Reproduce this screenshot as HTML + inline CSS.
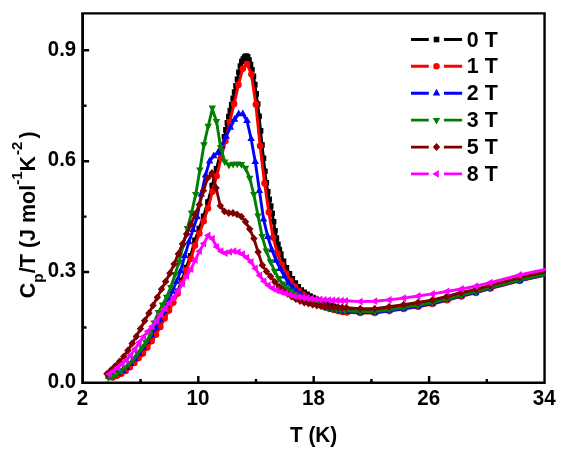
<!DOCTYPE html>
<html><head><meta charset="utf-8"><title>Cp/T vs T</title>
<style>
html,body{margin:0;padding:0;background:#fff;}
body{width:581px;height:449px;overflow:hidden;}
svg{display:block;will-change:transform;}
text{font-family:"Liberation Sans",sans-serif;font-weight:bold;fill:#000;}
</style></head><body>
<svg width="581" height="449" viewBox="0 0 581 449">
<defs><clipPath id="pc"><rect x="81.85" y="12.4" width="463.65" height="371.5"/></clipPath></defs>
<rect width="581" height="449" fill="#fff"/>
<path d="M81.2 12.15H545.75V384.0H81.2Z M84.0 14.6V381.55H543.35V14.6Z" fill="#000" fill-rule="evenodd"/>
<path d="M198.3 382.9v-6.8 M313.7 382.9v-6.8 M429.1 382.9v-6.8 M140.6 382.9v-4 M256.0 382.9v-4 M371.4 382.9v-4 M486.8 382.9v-4 M82.85 272.0h6.3 M82.85 161.2h6.3 M82.85 50.3h6.3 M82.85 327.5h3.7 M82.85 216.6h3.7 M82.85 105.8h3.7" stroke="#000" stroke-width="2.45" fill="none"/>
<text transform="translate(82.5,405.3) scale(1.03,1.11)" text-anchor="middle" font-size="20">2</text>
<text transform="translate(198.0,405.3) scale(1.03,1.11)" text-anchor="middle" font-size="20">10</text>
<text transform="translate(313.4,405.3) scale(1.03,1.11)" text-anchor="middle" font-size="20">18</text>
<text transform="translate(428.8,405.3) scale(1.03,1.11)" text-anchor="middle" font-size="20">26</text>
<text transform="translate(544.2,405.3) scale(1.03,1.11)" text-anchor="middle" font-size="20">34</text>
<text transform="translate(76.2,388.0) scale(1.02,1.13)" text-anchor="end" font-size="20">0.0</text>
<text transform="translate(76.2,277.2) scale(1.02,1.13)" text-anchor="end" font-size="20">0.3</text>
<text transform="translate(76.2,166.3) scale(1.02,1.13)" text-anchor="end" font-size="20">0.6</text>
<text transform="translate(76.2,55.5) scale(1.02,1.13)" text-anchor="end" font-size="20">0.9</text>
<text transform="translate(313.6,441.6) scale(0.99,1.085)" text-anchor="middle" font-size="21">T (K)</text>
<text transform="translate(34.5,298.2) rotate(-90)" font-size="21.5">C<tspan dy="8.4" font-size="15.5">p</tspan><tspan dy="-8.4">/T (J mol</tspan><tspan dy="-12.5" font-size="15">-1</tspan><tspan dy="12.5">K</tspan><tspan dx="1" dy="-12.5" font-size="15">-2</tspan><tspan dx="3" dy="12.5">)</tspan></text>
<g clip-path="url(#pc)">
<path d="M108.3 376.3 L112.6 375.2 L117.0 373.4 L121.3 371.4 L125.6 368.5 L129.9 364.7 L134.3 360.4 L138.6 355.5 L142.9 351.0 L147.3 344.8 L151.6 339.3 L155.9 333.0 L160.3 324.8 L164.6 316.4 L168.9 308.7 L173.2 300.6 L177.6 291.2 L181.9 280.3 L186.2 267.6 L190.6 255.9 L194.9 240.4 L199.2 228.6 L203.6 216.2 L207.9 202.0 L212.2 185.5 L216.5 168.8 L220.9 151.1 L224.5 136.8 L225.9 129.9 L227.4 122.9 L228.8 116.6 L230.3 110.6 L231.7 104.6 L233.2 98.4 L234.6 92.0 L236.0 85.7 L237.5 79.2 L238.9 72.3 L240.4 66.0 L241.8 61.5 L243.3 59.0 L244.7 57.0 L246.1 56.0 L247.6 56.7 L249.0 60.0 L250.5 64.6 L251.9 69.7 L253.4 76.4 L254.8 84.6 L256.2 93.9 L257.7 104.0 L259.1 116.2 L260.6 130.8 L262.0 145.0 L263.5 158.2 L264.9 171.2 L266.3 182.7 L267.8 191.8 L269.2 199.3 L270.7 206.1 L272.1 213.3 L273.6 221.8 L275.0 230.7 L276.4 238.1 L277.9 244.3 L279.3 249.6 L280.8 254.1 L283.5 261.2 L286.4 267.7 L289.4 273.7 L292.3 278.8 L295.3 283.1 L298.2 286.9 L301.2 290.0 L304.1 292.3 L307.1 294.3 L310.0 296.0 L313.0 297.6 L315.9 299.0 L318.9 300.4 L321.8 301.8 L324.8 303.1 L327.7 304.3 L330.7 305.4 L333.6 306.4 L336.6 307.3 L339.5 308.2 L342.5 309.0 L345.4 309.4 L360.3 310.2 L374.8 310.2 L389.2 308.3 L403.6 306.2 L418.1 303.9 L432.5 301.2 L446.9 297.5 L461.4 293.6 L475.8 290.1 L490.2 286.5 L519.5 278.9 L550.3 272.0" fill="none" stroke="#000000" stroke-width="2.9" stroke-linejoin="round"/>
<path d="M105.5 373.5h5.6v5.6h-5.6zM109.8 372.4h5.6v5.6h-5.6zM114.2 370.6h5.6v5.6h-5.6zM118.5 368.6h5.6v5.6h-5.6zM122.8 365.7h5.6v5.6h-5.6zM127.1 361.9h5.6v5.6h-5.6zM131.5 357.6h5.6v5.6h-5.6zM135.8 352.7h5.6v5.6h-5.6zM140.1 348.2h5.6v5.6h-5.6zM144.5 342.0h5.6v5.6h-5.6zM148.8 336.5h5.6v5.6h-5.6zM153.1 330.2h5.6v5.6h-5.6zM157.5 322.0h5.6v5.6h-5.6zM161.8 313.6h5.6v5.6h-5.6zM166.1 305.9h5.6v5.6h-5.6zM170.4 297.8h5.6v5.6h-5.6zM174.8 288.4h5.6v5.6h-5.6zM179.1 277.5h5.6v5.6h-5.6zM183.4 264.8h5.6v5.6h-5.6zM187.8 253.1h5.6v5.6h-5.6zM192.1 237.6h5.6v5.6h-5.6zM196.4 225.8h5.6v5.6h-5.6zM200.8 213.4h5.6v5.6h-5.6zM205.1 199.2h5.6v5.6h-5.6zM209.4 182.7h5.6v5.6h-5.6zM213.7 166.0h5.6v5.6h-5.6zM218.1 148.3h5.6v5.6h-5.6zM221.7 134.0h5.6v5.6h-5.6zM223.1 127.1h5.6v5.6h-5.6zM224.6 120.1h5.6v5.6h-5.6zM226.0 113.8h5.6v5.6h-5.6zM227.5 107.8h5.6v5.6h-5.6zM228.9 101.8h5.6v5.6h-5.6zM230.4 95.6h5.6v5.6h-5.6zM231.8 89.2h5.6v5.6h-5.6zM233.2 82.9h5.6v5.6h-5.6zM234.7 76.4h5.6v5.6h-5.6zM236.1 69.5h5.6v5.6h-5.6zM237.6 63.2h5.6v5.6h-5.6zM239.0 58.7h5.6v5.6h-5.6zM240.5 56.2h5.6v5.6h-5.6zM241.9 54.2h5.6v5.6h-5.6zM243.3 53.2h5.6v5.6h-5.6zM244.8 53.9h5.6v5.6h-5.6zM246.2 57.2h5.6v5.6h-5.6zM247.7 61.8h5.6v5.6h-5.6zM249.1 66.9h5.6v5.6h-5.6zM250.6 73.6h5.6v5.6h-5.6zM252.0 81.8h5.6v5.6h-5.6zM253.4 91.1h5.6v5.6h-5.6zM254.9 101.2h5.6v5.6h-5.6zM256.3 113.4h5.6v5.6h-5.6zM257.8 128.0h5.6v5.6h-5.6zM259.2 142.2h5.6v5.6h-5.6zM260.7 155.4h5.6v5.6h-5.6zM262.1 168.4h5.6v5.6h-5.6zM263.5 179.9h5.6v5.6h-5.6zM265.0 189.0h5.6v5.6h-5.6zM266.4 196.5h5.6v5.6h-5.6zM267.9 203.3h5.6v5.6h-5.6zM269.3 210.5h5.6v5.6h-5.6zM270.8 219.0h5.6v5.6h-5.6zM272.2 227.9h5.6v5.6h-5.6zM273.6 235.3h5.6v5.6h-5.6zM275.1 241.5h5.6v5.6h-5.6zM276.5 246.8h5.6v5.6h-5.6zM278.0 251.3h5.6v5.6h-5.6zM280.7 258.4h5.6v5.6h-5.6zM283.6 264.9h5.6v5.6h-5.6zM286.6 270.9h5.6v5.6h-5.6zM289.5 276.0h5.6v5.6h-5.6zM292.5 280.3h5.6v5.6h-5.6zM295.4 284.1h5.6v5.6h-5.6zM298.4 287.2h5.6v5.6h-5.6zM301.3 289.5h5.6v5.6h-5.6zM304.3 291.5h5.6v5.6h-5.6zM307.2 293.2h5.6v5.6h-5.6zM310.2 294.8h5.6v5.6h-5.6zM313.1 296.2h5.6v5.6h-5.6zM316.1 297.6h5.6v5.6h-5.6zM319.0 299.0h5.6v5.6h-5.6zM322.0 300.3h5.6v5.6h-5.6zM324.9 301.5h5.6v5.6h-5.6zM327.9 302.6h5.6v5.6h-5.6zM330.8 303.6h5.6v5.6h-5.6zM333.8 304.5h5.6v5.6h-5.6zM336.7 305.4h5.6v5.6h-5.6zM339.7 306.2h5.6v5.6h-5.6zM342.6 306.6h5.6v5.6h-5.6zM357.5 307.4h5.6v5.6h-5.6zM372.0 307.4h5.6v5.6h-5.6zM386.4 305.5h5.6v5.6h-5.6zM400.8 303.4h5.6v5.6h-5.6zM415.3 301.1h5.6v5.6h-5.6zM429.7 298.4h5.6v5.6h-5.6zM444.1 294.7h5.6v5.6h-5.6zM458.6 290.8h5.6v5.6h-5.6zM473.0 287.3h5.6v5.6h-5.6zM487.4 283.7h5.6v5.6h-5.6zM516.7 276.1h5.6v5.6h-5.6z" fill="#000000"/>
<path d="M112.6 377.4 L116.9 375.7 L121.2 373.7 L125.6 370.9 L129.9 367.2 L134.3 362.9 L138.6 358.1 L142.9 353.6 L147.3 347.6 L151.6 341.2 L156.0 334.7 L160.3 326.9 L164.6 318.4 L169.0 310.5 L173.3 302.6 L177.7 293.5 L182.0 283.0 L186.3 270.4 L190.7 259.0 L195.0 245.6 L199.4 233.5 L203.7 221.3 L208.0 208.4 L212.4 191.7 L216.7 176.0 L221.1 157.8 L225.4 141.0 L229.7 122.1 L234.1 103.9 L238.4 84.9 L242.8 68.8 L247.1 64.1 L251.4 74.3 L255.8 104.6 L260.1 145.9 L264.5 183.2 L268.8 212.3 L273.1 237.6 L277.5 253.9 L281.8 264.6 L286.2 273.6 L290.5 280.8 L294.8 286.5 L299.2 291.0 L303.5 294.6 L307.9 297.8 L312.2 300.6 L316.5 303.0 L320.9 305.2 L325.2 307.2 L329.6 308.8 L333.9 310.0 L338.2 311.1 L342.6 311.9 L346.9 312.4 L360.3 313.0 L374.8 313.0 L389.2 311.1 L403.6 309.0 L418.1 306.7 L432.5 304.0 L446.9 300.3 L461.4 296.4 L475.8 292.9 L490.2 288.6 L519.5 280.9 L550.3 274.0" fill="none" stroke="#ff0000" stroke-width="2.9" stroke-linejoin="round"/>
<path d="M109.3 377.4a3.3 3.3 0 1 0 6.6 0a3.3 3.3 0 1 0 -6.6 0zM113.6 375.7a3.3 3.3 0 1 0 6.6 0a3.3 3.3 0 1 0 -6.6 0zM117.9 373.7a3.3 3.3 0 1 0 6.6 0a3.3 3.3 0 1 0 -6.6 0zM122.3 370.9a3.3 3.3 0 1 0 6.6 0a3.3 3.3 0 1 0 -6.6 0zM126.6 367.2a3.3 3.3 0 1 0 6.6 0a3.3 3.3 0 1 0 -6.6 0zM131.0 362.9a3.3 3.3 0 1 0 6.6 0a3.3 3.3 0 1 0 -6.6 0zM135.3 358.1a3.3 3.3 0 1 0 6.6 0a3.3 3.3 0 1 0 -6.6 0zM139.6 353.6a3.3 3.3 0 1 0 6.6 0a3.3 3.3 0 1 0 -6.6 0zM144.0 347.6a3.3 3.3 0 1 0 6.6 0a3.3 3.3 0 1 0 -6.6 0zM148.3 341.2a3.3 3.3 0 1 0 6.6 0a3.3 3.3 0 1 0 -6.6 0zM152.7 334.7a3.3 3.3 0 1 0 6.6 0a3.3 3.3 0 1 0 -6.6 0zM157.0 326.9a3.3 3.3 0 1 0 6.6 0a3.3 3.3 0 1 0 -6.6 0zM161.3 318.4a3.3 3.3 0 1 0 6.6 0a3.3 3.3 0 1 0 -6.6 0zM165.7 310.5a3.3 3.3 0 1 0 6.6 0a3.3 3.3 0 1 0 -6.6 0zM170.0 302.6a3.3 3.3 0 1 0 6.6 0a3.3 3.3 0 1 0 -6.6 0zM174.4 293.5a3.3 3.3 0 1 0 6.6 0a3.3 3.3 0 1 0 -6.6 0zM178.7 283.0a3.3 3.3 0 1 0 6.6 0a3.3 3.3 0 1 0 -6.6 0zM183.0 270.4a3.3 3.3 0 1 0 6.6 0a3.3 3.3 0 1 0 -6.6 0zM187.4 259.0a3.3 3.3 0 1 0 6.6 0a3.3 3.3 0 1 0 -6.6 0zM191.7 245.6a3.3 3.3 0 1 0 6.6 0a3.3 3.3 0 1 0 -6.6 0zM196.1 233.5a3.3 3.3 0 1 0 6.6 0a3.3 3.3 0 1 0 -6.6 0zM200.4 221.3a3.3 3.3 0 1 0 6.6 0a3.3 3.3 0 1 0 -6.6 0zM204.7 208.4a3.3 3.3 0 1 0 6.6 0a3.3 3.3 0 1 0 -6.6 0zM209.1 191.7a3.3 3.3 0 1 0 6.6 0a3.3 3.3 0 1 0 -6.6 0zM213.4 176.0a3.3 3.3 0 1 0 6.6 0a3.3 3.3 0 1 0 -6.6 0zM217.8 157.8a3.3 3.3 0 1 0 6.6 0a3.3 3.3 0 1 0 -6.6 0zM222.1 141.0a3.3 3.3 0 1 0 6.6 0a3.3 3.3 0 1 0 -6.6 0zM226.4 122.1a3.3 3.3 0 1 0 6.6 0a3.3 3.3 0 1 0 -6.6 0zM230.8 103.9a3.3 3.3 0 1 0 6.6 0a3.3 3.3 0 1 0 -6.6 0zM235.1 84.9a3.3 3.3 0 1 0 6.6 0a3.3 3.3 0 1 0 -6.6 0zM239.5 68.8a3.3 3.3 0 1 0 6.6 0a3.3 3.3 0 1 0 -6.6 0zM243.8 64.1a3.3 3.3 0 1 0 6.6 0a3.3 3.3 0 1 0 -6.6 0zM248.1 74.3a3.3 3.3 0 1 0 6.6 0a3.3 3.3 0 1 0 -6.6 0zM252.5 104.6a3.3 3.3 0 1 0 6.6 0a3.3 3.3 0 1 0 -6.6 0zM256.8 145.9a3.3 3.3 0 1 0 6.6 0a3.3 3.3 0 1 0 -6.6 0zM261.2 183.2a3.3 3.3 0 1 0 6.6 0a3.3 3.3 0 1 0 -6.6 0zM265.5 212.3a3.3 3.3 0 1 0 6.6 0a3.3 3.3 0 1 0 -6.6 0zM269.8 237.6a3.3 3.3 0 1 0 6.6 0a3.3 3.3 0 1 0 -6.6 0zM274.2 253.9a3.3 3.3 0 1 0 6.6 0a3.3 3.3 0 1 0 -6.6 0zM278.5 264.6a3.3 3.3 0 1 0 6.6 0a3.3 3.3 0 1 0 -6.6 0zM282.9 273.6a3.3 3.3 0 1 0 6.6 0a3.3 3.3 0 1 0 -6.6 0zM287.2 280.8a3.3 3.3 0 1 0 6.6 0a3.3 3.3 0 1 0 -6.6 0zM291.5 286.5a3.3 3.3 0 1 0 6.6 0a3.3 3.3 0 1 0 -6.6 0zM295.9 291.0a3.3 3.3 0 1 0 6.6 0a3.3 3.3 0 1 0 -6.6 0zM300.2 294.6a3.3 3.3 0 1 0 6.6 0a3.3 3.3 0 1 0 -6.6 0zM304.6 297.8a3.3 3.3 0 1 0 6.6 0a3.3 3.3 0 1 0 -6.6 0zM308.9 300.6a3.3 3.3 0 1 0 6.6 0a3.3 3.3 0 1 0 -6.6 0zM313.2 303.0a3.3 3.3 0 1 0 6.6 0a3.3 3.3 0 1 0 -6.6 0zM317.6 305.2a3.3 3.3 0 1 0 6.6 0a3.3 3.3 0 1 0 -6.6 0zM321.9 307.2a3.3 3.3 0 1 0 6.6 0a3.3 3.3 0 1 0 -6.6 0zM326.3 308.8a3.3 3.3 0 1 0 6.6 0a3.3 3.3 0 1 0 -6.6 0zM330.6 310.0a3.3 3.3 0 1 0 6.6 0a3.3 3.3 0 1 0 -6.6 0zM334.9 311.1a3.3 3.3 0 1 0 6.6 0a3.3 3.3 0 1 0 -6.6 0zM339.3 311.9a3.3 3.3 0 1 0 6.6 0a3.3 3.3 0 1 0 -6.6 0zM343.6 312.4a3.3 3.3 0 1 0 6.6 0a3.3 3.3 0 1 0 -6.6 0zM357.0 313.0a3.3 3.3 0 1 0 6.6 0a3.3 3.3 0 1 0 -6.6 0zM371.5 313.0a3.3 3.3 0 1 0 6.6 0a3.3 3.3 0 1 0 -6.6 0zM385.9 311.1a3.3 3.3 0 1 0 6.6 0a3.3 3.3 0 1 0 -6.6 0zM400.3 309.0a3.3 3.3 0 1 0 6.6 0a3.3 3.3 0 1 0 -6.6 0zM414.8 306.7a3.3 3.3 0 1 0 6.6 0a3.3 3.3 0 1 0 -6.6 0zM429.2 304.0a3.3 3.3 0 1 0 6.6 0a3.3 3.3 0 1 0 -6.6 0zM443.6 300.3a3.3 3.3 0 1 0 6.6 0a3.3 3.3 0 1 0 -6.6 0zM458.1 296.4a3.3 3.3 0 1 0 6.6 0a3.3 3.3 0 1 0 -6.6 0zM472.5 292.9a3.3 3.3 0 1 0 6.6 0a3.3 3.3 0 1 0 -6.6 0zM486.9 288.6a3.3 3.3 0 1 0 6.6 0a3.3 3.3 0 1 0 -6.6 0zM516.2 280.9a3.3 3.3 0 1 0 6.6 0a3.3 3.3 0 1 0 -6.6 0z" fill="#ff0000"/>
<path d="M110.0 376.6 L114.2 375.2 L118.3 373.4 L122.5 370.9 L126.6 367.8 L130.8 363.7 L134.9 359.0 L139.1 353.7 L143.2 347.9 L147.4 341.6 L151.5 334.9 L155.7 327.6 L159.8 319.4 L164.0 310.7 L168.1 301.4 L172.3 291.5 L176.4 281.9 L180.6 271.1 L184.8 255.7 L188.9 242.1 L193.0 229.8 L197.2 217.0 L201.3 194.2 L205.5 175.3 L209.6 161.2 L213.8 156.0 L217.9 152.7 L222.1 145.9 L226.2 136.4 L230.4 127.5 L234.5 119.5 L238.7 114.1 L242.8 114.1 L247.0 120.8 L251.1 138.8 L255.3 161.9 L259.4 190.6 L263.6 219.3 L267.8 236.7 L271.9 249.9 L276.1 260.4 L280.2 268.8 L284.4 276.2 L288.5 283.0 L292.6 287.9 L296.8 291.7 L300.9 294.7 L305.1 297.4 L309.2 299.7 L313.4 301.8 L317.6 303.8 L321.7 305.6 L325.9 307.3 L330.0 308.7 L334.1 309.8 L338.3 310.7 L342.4 311.4 L346.6 311.8 L360.3 312.5 L374.8 312.5 L389.2 310.6 L403.6 308.5 L418.1 306.2 L432.5 303.5 L446.9 299.8 L461.4 295.9 L475.8 292.4 L490.2 288.2 L519.5 280.6 L550.3 273.7" fill="none" stroke="#0000ff" stroke-width="2.9" stroke-linejoin="round"/>
<path d="M110.0 372.1L113.8 378.8L106.3 378.8zM114.2 370.7L117.9 377.4L110.4 377.4zM118.3 368.9L122.1 375.6L114.6 375.6zM122.5 366.4L126.2 373.1L118.7 373.1zM126.6 363.3L130.4 370.0L122.9 370.0zM130.8 359.3L134.5 366.0L127.0 366.0zM134.9 354.6L138.7 361.3L131.2 361.3zM139.1 349.3L142.8 356.0L135.3 356.0zM143.2 343.4L147.0 350.1L139.5 350.1zM147.4 337.2L151.1 343.9L143.6 343.9zM151.5 330.5L155.3 337.2L147.8 337.2zM155.7 323.1L159.4 329.8L151.9 329.8zM159.8 315.0L163.6 321.7L156.1 321.7zM164.0 306.2L167.8 312.9L160.2 312.9zM168.1 296.9L171.9 303.6L164.4 303.6zM172.3 287.0L176.0 293.7L168.5 293.7zM176.4 277.4L180.2 284.1L172.7 284.1zM180.6 266.6L184.3 273.3L176.8 273.3zM184.8 251.3L188.5 258.0L181.0 258.0zM188.9 237.6L192.6 244.3L185.1 244.3zM193.0 225.4L196.8 232.1L189.3 232.1zM197.2 212.5L200.9 219.2L193.4 219.2zM201.3 189.8L205.1 196.5L197.6 196.5zM205.5 170.9L209.2 177.6L201.8 177.6zM209.6 156.7L213.4 163.4L205.9 163.4zM213.8 151.6L217.5 158.3L210.0 158.3zM217.9 148.3L221.7 155.0L214.2 155.0zM222.1 141.5L225.8 148.2L218.3 148.2zM226.2 132.0L230.0 138.7L222.5 138.7zM230.4 123.0L234.1 129.7L226.6 129.7zM234.5 115.1L238.3 121.8L230.8 121.8zM238.7 109.6L242.4 116.3L234.9 116.3zM242.8 109.6L246.6 116.3L239.1 116.3zM247.0 116.3L250.8 123.0L243.2 123.0zM251.1 134.4L254.9 141.1L247.4 141.1zM255.3 157.4L259.0 164.1L251.5 164.1zM259.4 186.2L263.2 192.9L255.7 192.9zM263.6 214.9L267.3 221.6L259.8 221.6zM267.8 232.3L271.5 239.0L264.0 239.0zM271.9 245.5L275.6 252.2L268.1 252.2zM276.1 256.0L279.8 262.7L272.3 262.7zM280.2 264.4L283.9 271.1L276.4 271.1zM284.4 271.7L288.1 278.4L280.6 278.4zM288.5 278.5L292.2 285.2L284.8 285.2zM292.6 283.4L296.4 290.1L288.9 290.1zM296.8 287.2L300.6 293.9L293.1 293.9zM300.9 290.3L304.7 297.0L297.2 297.0zM305.1 292.9L308.9 299.6L301.4 299.6zM309.2 295.2L313.0 301.9L305.5 301.9zM313.4 297.4L317.1 304.1L309.6 304.1zM317.6 299.3L321.3 306.0L313.8 306.0zM321.7 301.2L325.4 307.9L317.9 307.9zM325.9 302.8L329.6 309.5L322.1 309.5zM330.0 304.2L333.8 310.9L326.2 310.9zM334.1 305.3L337.9 312.0L330.4 312.0zM338.3 306.2L342.1 312.9L334.6 312.9zM342.4 307.0L346.2 313.7L338.7 313.7zM346.6 307.4L350.4 314.1L342.9 314.1zM360.3 308.0L364.1 314.7L356.6 314.7zM374.8 308.1L378.5 314.8L371.0 314.8zM389.2 306.1L393.0 312.8L385.5 312.8zM403.6 304.0L407.4 310.7L399.9 310.7zM418.1 301.8L421.8 308.5L414.3 308.5zM432.5 299.1L436.2 305.8L428.7 305.8zM446.9 295.4L450.7 302.1L443.2 302.1zM461.4 291.5L465.1 298.2L457.6 298.2zM475.8 288.0L479.5 294.7L472.0 294.7zM490.2 283.7L494.0 290.4L486.5 290.4zM519.5 276.2L523.3 282.9L515.8 282.9z" fill="#0000ff"/>
<path d="M108.5 377.7 L112.7 376.4 L116.9 373.9 L121.0 370.8 L125.2 367.5 L129.3 363.6 L133.4 359.0 L137.6 353.1 L141.8 347.5 L145.9 342.2 L150.1 335.0 L154.2 322.6 L158.4 312.2 L162.5 304.9 L166.7 296.9 L170.8 287.2 L175.0 274.4 L179.1 262.0 L183.2 245.2 L187.4 228.3 L191.6 212.8 L195.7 194.4 L199.9 169.7 L204.0 144.4 L208.2 126.0 L212.3 109.2 L216.5 121.2 L220.6 147.3 L224.8 161.6 L228.9 165.0 L233.1 164.0 L237.2 163.8 L241.4 164.2 L245.5 168.0 L249.7 177.9 L253.8 194.4 L258.0 215.6 L262.1 236.2 L266.2 250.7 L270.4 261.5 L274.6 271.0 L278.7 278.3 L282.9 283.8 L287.0 287.8 L291.2 291.0 L295.3 294.1 L299.5 296.7 L303.6 298.8 L307.8 300.5 L311.9 302.1 L316.1 303.7 L320.2 305.2 L324.4 306.8 L328.5 308.1 L332.7 309.1 L336.8 309.8 L341.0 310.4 L345.1 310.8 L360.3 311.6 L374.8 311.6 L389.2 309.7 L403.6 307.6 L418.1 305.3 L432.5 302.6 L446.9 299.1 L461.4 295.2 L475.8 291.7 L490.2 287.7 L519.5 280.1 L550.3 273.2" fill="none" stroke="#007f00" stroke-width="2.9" stroke-linejoin="round"/>
<path d="M108.5 382.1L112.3 375.4L104.8 375.4zM112.7 380.8L116.5 374.1L109.0 374.1zM116.9 378.4L120.6 371.7L113.1 371.7zM121.0 375.2L124.8 368.5L117.2 368.5zM125.2 372.0L128.9 365.3L121.4 365.3zM129.3 368.0L133.1 361.3L125.6 361.3zM133.4 363.5L137.2 356.8L129.7 356.8zM137.6 357.5L141.4 350.8L133.9 350.8zM141.8 351.9L145.5 345.2L138.0 345.2zM145.9 346.6L149.7 339.9L142.2 339.9zM150.1 339.5L153.8 332.8L146.3 332.8zM154.2 327.1L157.9 320.4L150.4 320.4zM158.4 316.6L162.1 309.9L154.6 309.9zM162.5 309.3L166.2 302.6L158.8 302.6zM166.7 301.4L170.4 294.7L162.9 294.7zM170.8 291.7L174.6 285.0L167.1 285.0zM175.0 278.8L178.7 272.1L171.2 272.1zM179.1 266.4L182.9 259.7L175.4 259.7zM183.2 249.7L187.0 243.0L179.5 243.0zM187.4 232.8L191.2 226.1L183.7 226.1zM191.6 217.3L195.3 210.6L187.8 210.6zM195.7 198.8L199.5 192.1L192.0 192.1zM199.9 174.1L203.6 167.4L196.1 167.4zM204.0 148.9L207.8 142.2L200.2 142.2zM208.2 130.4L211.9 123.8L204.4 123.8zM212.3 112.2L216.1 105.5L208.6 105.5zM216.5 125.7L220.2 119.0L212.7 119.0zM220.6 151.7L224.4 145.0L216.9 145.0zM224.8 166.1L228.5 159.4L221.0 159.4zM228.9 169.4L232.7 162.7L225.2 162.7zM233.1 168.5L236.8 161.8L229.3 161.8zM237.2 168.3L241.0 161.6L233.5 161.6zM241.4 168.7L245.1 162.0L237.6 162.0zM245.5 172.5L249.2 165.8L241.8 165.8zM249.7 182.4L253.4 175.7L245.9 175.7zM253.8 198.8L257.6 192.1L250.1 192.1zM258.0 220.1L261.7 213.4L254.2 213.4zM262.1 240.7L265.9 234.0L258.4 234.0zM266.2 255.1L270.0 248.4L262.5 248.4zM270.4 266.0L274.2 259.3L266.7 259.3zM274.6 275.4L278.3 268.7L270.8 268.7zM278.7 282.7L282.5 276.0L275.0 276.0zM282.9 288.3L286.6 281.6L279.1 281.6zM287.0 292.2L290.8 285.5L283.2 285.5zM291.2 295.4L294.9 288.7L287.4 288.7zM295.3 298.5L299.1 291.8L291.6 291.8zM299.5 301.2L303.2 294.5L295.7 294.5zM303.6 303.2L307.4 296.5L299.9 296.5zM307.8 305.0L311.5 298.3L304.0 298.3zM311.9 306.6L315.7 299.9L308.2 299.9zM316.1 308.1L319.8 301.4L312.3 301.4zM320.2 309.7L324.0 303.0L316.5 303.0zM324.4 311.2L328.1 304.5L320.6 304.5zM328.5 312.6L332.2 305.9L324.8 305.9zM332.7 313.5L336.4 306.8L328.9 306.8zM336.8 314.3L340.6 307.6L333.1 307.6zM341.0 314.8L344.7 308.1L337.2 308.1zM345.1 315.3L348.9 308.6L341.4 308.6zM360.3 316.0L364.1 309.3L356.6 309.3zM374.8 316.1L378.5 309.4L371.0 309.4zM389.2 314.1L393.0 307.4L385.5 307.4zM403.6 312.0L407.4 305.3L399.9 305.3zM418.1 309.8L421.8 303.1L414.3 303.1zM432.5 307.1L436.2 300.4L428.7 300.4zM446.9 303.6L450.7 296.9L443.2 296.9zM461.4 299.7L465.1 293.0L457.6 293.0zM475.8 296.2L479.5 289.5L472.0 289.5zM490.2 292.1L494.0 285.4L486.5 285.4zM519.5 284.6L523.3 277.9L515.8 277.9z" fill="#007f00"/>
<path d="M106.9 373.8 L111.1 370.1 L115.3 366.0 L119.5 361.4 L123.7 356.6 L127.9 350.4 L132.1 343.4 L136.3 336.4 L140.5 328.7 L144.7 320.8 L148.9 313.2 L153.1 305.4 L157.3 297.3 L161.5 289.2 L165.7 281.5 L169.9 273.3 L174.1 264.1 L178.3 253.9 L182.5 243.9 L186.7 234.1 L190.9 224.3 L195.1 214.7 L199.3 204.7 L203.5 190.6 L207.7 177.9 L211.9 173.0 L216.1 188.0 L220.3 205.8 L224.5 211.4 L228.7 213.0 L232.9 213.0 L237.1 214.4 L241.3 216.6 L245.5 221.7 L249.7 229.1 L253.9 238.5 L258.1 252.1 L262.3 265.2 L266.5 271.5 L270.7 276.5 L274.9 282.1 L279.1 286.8 L283.3 290.6 L287.5 293.8 L291.7 296.6 L295.9 298.9 L300.1 300.9 L304.3 302.4 L308.5 303.6 L312.7 304.7 L316.9 305.5 L321.1 306.1 L325.3 306.7 L329.5 307.1 L333.7 307.4 L337.9 307.5 L342.1 307.6 L346.3 307.7 L360.3 308.7 L374.8 308.7 L389.2 306.7 L403.6 304.7 L418.1 302.4 L432.5 299.9 L446.9 296.4 L461.4 292.5 L475.8 289.3 L490.2 285.4 L519.5 277.6 L550.3 270.8" fill="none" stroke="#7f0000" stroke-width="2.9" stroke-linejoin="round"/>
<path d="M106.9 369.9L110.7 373.8L106.9 377.8L103.2 373.8zM111.1 366.1L114.8 370.1L111.1 374.0L107.3 370.1zM115.3 362.0L119.0 366.0L115.3 369.9L111.5 366.0zM119.5 357.5L123.2 361.4L119.5 365.4L115.8 361.4zM123.7 352.7L127.5 356.6L123.7 360.6L120.0 356.6zM127.9 346.5L131.7 350.4L127.9 354.4L124.2 350.4zM132.1 339.5L135.9 343.4L132.1 347.4L128.4 343.4zM136.3 332.5L140.1 336.4L136.3 340.4L132.6 336.4zM140.5 324.8L144.2 328.7L140.5 332.7L136.8 328.7zM144.7 316.8L148.4 320.8L144.7 324.7L140.9 320.8zM148.9 309.2L152.7 313.2L148.9 317.1L145.2 313.2zM153.1 301.4L156.8 305.4L153.1 309.3L149.3 305.4zM157.3 293.4L161.1 297.3L157.3 301.3L153.6 297.3zM161.5 285.2L165.2 289.2L161.5 293.1L157.8 289.2zM165.7 277.6L169.4 281.5L165.7 285.5L161.9 281.5zM169.9 269.3L173.7 273.3L169.9 277.2L166.2 273.3zM174.1 260.2L177.8 264.1L174.1 268.1L170.3 264.1zM178.3 250.0L182.1 253.9L178.3 257.9L174.6 253.9zM182.5 240.0L186.2 243.9L182.5 247.9L178.8 243.9zM186.7 230.1L190.4 234.1L186.7 238.0L182.9 234.1zM190.9 220.4L194.7 224.3L190.9 228.3L187.2 224.3zM195.1 210.7L198.8 214.7L195.1 218.6L191.3 214.7zM199.3 200.7L203.1 204.7L199.3 208.6L195.6 204.7zM203.5 186.7L207.2 190.6L203.5 194.6L199.8 190.6zM207.7 173.9L211.5 177.9L207.7 181.8L204.0 177.9zM211.9 169.1L215.7 173.0L211.9 176.9L208.2 173.0zM216.1 184.1L219.8 188.0L216.1 191.9L212.3 188.0zM220.3 201.9L224.1 205.8L220.3 209.8L216.6 205.8zM224.5 207.5L228.2 211.4L224.5 215.3L220.8 211.4zM228.7 209.1L232.5 213.0L228.7 216.9L225.0 213.0zM232.9 209.1L236.7 213.0L232.9 216.9L229.2 213.0zM237.1 210.4L240.9 214.4L237.1 218.3L233.4 214.4zM241.3 212.7L245.1 216.6L241.3 220.6L237.6 216.6zM245.5 217.8L249.2 221.7L245.5 225.7L241.8 221.7zM249.7 225.2L253.5 229.1L249.7 233.1L246.0 229.1zM253.9 234.6L257.6 238.5L253.9 242.5L250.2 238.5zM258.1 248.2L261.9 252.1L258.1 256.1L254.4 252.1zM262.3 261.2L266.1 265.2L262.3 269.1L258.6 265.2zM266.5 267.5L270.2 271.5L266.5 275.4L262.8 271.5zM270.7 272.6L274.4 276.5L270.7 280.5L266.9 276.5zM274.9 278.1L278.6 282.1L274.9 286.0L271.1 282.1zM279.1 282.8L282.9 286.8L279.1 290.7L275.4 286.8zM283.3 286.6L287.1 290.6L283.3 294.5L279.6 290.6zM287.5 289.9L291.2 293.8L287.5 297.8L283.8 293.8zM291.7 292.6L295.4 296.6L291.7 300.5L287.9 296.6zM295.9 295.0L299.6 298.9L295.9 302.9L292.1 298.9zM300.1 297.0L303.9 300.9L300.1 304.9L296.4 300.9zM304.3 298.5L308.1 302.4L304.3 306.4L300.6 302.4zM308.5 299.7L312.2 303.6L308.5 307.6L304.8 303.6zM312.7 300.7L316.5 304.7L312.7 308.6L309.0 304.7zM316.9 301.5L320.6 305.5L316.9 309.4L313.1 305.5zM321.1 302.2L324.9 306.1L321.1 310.1L317.4 306.1zM325.3 302.8L329.1 306.7L325.3 310.7L321.6 306.7zM329.5 303.2L333.2 307.1L329.5 311.1L325.8 307.1zM333.7 303.4L337.5 307.4L333.7 311.3L330.0 307.4zM337.9 303.5L341.6 307.5L337.9 311.4L334.1 307.5zM342.1 303.6L345.9 307.6L342.1 311.5L338.4 307.6zM346.3 303.8L350.1 307.7L346.3 311.7L342.6 307.7zM360.3 304.7L364.1 308.7L360.3 312.6L356.6 308.7zM374.8 304.8L378.5 308.7L374.8 312.6L371.0 308.7zM389.2 302.7L393.0 306.7L389.2 310.6L385.5 306.7zM403.6 300.7L407.4 304.7L403.6 308.6L399.9 304.7zM418.1 298.5L421.8 302.4L418.1 306.4L414.3 302.4zM432.5 296.0L436.2 299.9L432.5 303.9L428.7 299.9zM446.9 292.5L450.7 296.4L446.9 300.4L443.2 296.4zM461.4 288.6L465.1 292.5L461.4 296.5L457.6 292.5zM475.8 285.4L479.5 289.3L475.8 293.3L472.0 289.3zM490.2 281.4L494.0 285.4L490.2 289.3L486.5 285.4zM519.5 273.7L523.3 277.6L519.5 281.6L515.8 277.6z" fill="#7f0000"/>
<path d="M109.2 374.1 L113.5 370.9 L117.8 367.5 L122.1 363.9 L126.4 360.1 L130.7 355.2 L135.0 349.0 L139.3 342.3 L143.6 336.6 L147.9 331.3 L152.2 326.4 L156.5 320.7 L160.8 314.4 L165.1 308.5 L169.4 302.8 L173.7 297.5 L178.0 291.0 L182.3 283.7 L186.6 275.9 L190.9 269.2 L195.2 260.0 L199.5 251.2 L203.8 243.6 L208.1 235.4 L212.4 238.7 L216.7 246.8 L221.0 251.2 L225.3 253.2 L229.6 251.9 L233.9 251.2 L238.2 252.1 L242.5 254.1 L246.8 257.6 L251.1 262.0 L255.4 268.4 L259.7 275.4 L264.0 281.2 L268.3 285.3 L272.6 288.4 L276.9 290.5 L281.2 292.1 L285.5 293.4 L289.8 294.7 L294.1 295.8 L298.4 296.8 L302.7 297.5 L307.0 298.2 L311.3 298.7 L315.6 299.2 L319.9 299.5 L324.2 299.8 L328.5 300.1 L332.8 300.3 L337.1 300.5 L341.4 300.7 L345.7 300.8 L360.3 301.6 L374.8 301.2 L389.2 299.9 L403.6 298.1 L418.1 296.0 L432.5 293.9 L446.9 291.5 L461.4 288.9 L475.8 286.2 L490.2 282.6 L519.5 275.0 L550.3 268.2" fill="none" stroke="#ff00ff" stroke-width="2.9" stroke-linejoin="round"/>
<path d="M104.9 374.1L111.6 370.2L111.6 378.0zM109.2 370.9L115.9 367.0L115.9 374.8zM113.5 367.5L120.2 363.6L120.2 371.4zM117.8 363.9L124.5 360.0L124.5 367.8zM122.1 360.1L128.8 356.2L128.8 364.0zM126.4 355.2L133.1 351.3L133.1 359.1zM130.7 349.0L137.4 345.1L137.4 352.9zM135.0 342.3L141.7 338.4L141.7 346.2zM139.3 336.6L146.0 332.7L146.0 340.5zM143.6 331.3L150.3 327.4L150.3 335.2zM147.9 326.4L154.6 322.5L154.6 330.3zM152.2 320.7L158.9 316.8L158.9 324.6zM156.5 314.4L163.2 310.5L163.2 318.3zM160.8 308.5L167.5 304.6L167.5 312.4zM165.1 302.8L171.8 298.9L171.8 306.7zM169.4 297.5L176.1 293.6L176.1 301.4zM173.7 291.0L180.4 287.1L180.4 294.9zM178.0 283.7L184.7 279.8L184.7 287.6zM182.3 275.9L189.0 272.0L189.0 279.8zM186.6 269.2L193.3 265.3L193.3 273.1zM190.9 260.0L197.6 256.1L197.6 263.9zM195.2 251.2L201.9 247.3L201.9 255.1zM199.5 243.6L206.2 239.7L206.2 247.5zM203.8 235.4L210.5 231.5L210.5 239.3zM208.1 238.7L214.8 234.8L214.8 242.6zM212.4 246.8L219.1 242.9L219.1 250.7zM216.7 251.2L223.4 247.3L223.4 255.1zM221.0 253.2L227.7 249.3L227.7 257.1zM225.3 251.9L232.0 248.0L232.0 255.8zM229.6 251.2L236.3 247.3L236.3 255.1zM233.9 252.1L240.6 248.2L240.6 256.0zM238.2 254.1L244.9 250.2L244.9 258.0zM242.5 257.6L249.2 253.7L249.2 261.5zM246.8 262.0L253.5 258.1L253.5 265.9zM251.1 268.4L257.8 264.5L257.8 272.3zM255.4 275.4L262.1 271.5L262.1 279.3zM259.7 281.2L266.4 277.3L266.4 285.1zM264.0 285.3L270.7 281.4L270.7 289.2zM268.3 288.4L275.0 284.5L275.0 292.3zM272.6 290.5L279.3 286.6L279.3 294.4zM276.9 292.1L283.6 288.2L283.6 296.0zM281.2 293.4L287.9 289.5L287.9 297.3zM285.5 294.7L292.2 290.8L292.2 298.6zM289.8 295.8L296.5 291.9L296.5 299.7zM294.1 296.8L300.8 292.9L300.8 300.7zM298.4 297.5L305.1 293.6L305.1 301.4zM302.7 298.2L309.4 294.3L309.4 302.1zM307.0 298.7L313.7 294.8L313.7 302.6zM311.3 299.2L318.0 295.3L318.0 303.1zM315.6 299.5L322.3 295.6L322.3 303.4zM319.9 299.8L326.6 295.9L326.6 303.7zM324.2 300.1L330.9 296.2L330.9 304.0zM328.5 300.3L335.2 296.4L335.2 304.2zM332.8 300.5L339.5 296.6L339.5 304.4zM337.1 300.7L343.8 296.8L343.8 304.6zM341.4 300.8L348.1 296.9L348.1 304.7zM356.0 301.6L362.7 297.7L362.7 305.5zM370.5 301.2L377.2 297.3L377.2 305.1zM384.9 299.9L391.6 296.0L391.6 303.8zM399.3 298.1L406.0 294.2L406.0 302.0zM413.8 296.0L420.5 292.1L420.5 299.9zM428.2 293.9L434.9 290.0L434.9 297.8zM442.6 291.5L449.3 287.6L449.3 295.4zM457.1 288.9L463.8 285.0L463.8 292.8zM471.5 286.2L478.2 282.3L478.2 290.1zM485.9 282.6L492.6 278.7L492.6 286.5zM515.2 275.0L521.9 271.1L521.9 278.9z" fill="#ff00ff"/>
</g>
<path d="M411 39.5H428.8M443.9 39.5H462.1" stroke="#000000" stroke-width="2.9" fill="none"/>
<path d="M433.7 36.7h5.6v5.6h-5.6z" fill="#000000"/>
<text x="466.8" y="46.6" font-size="21.4">0 T</text>
<path d="M411 66.3H428.8M443.9 66.3H462.1" stroke="#ff0000" stroke-width="2.9" fill="none"/>
<path d="M433.2 66.3a3.3 3.3 0 1 0 6.6 0a3.3 3.3 0 1 0 -6.6 0z" fill="#ff0000"/>
<text x="466.8" y="73.4" font-size="21.4">1 T</text>
<path d="M411 93.2H428.8M443.9 93.2H462.1" stroke="#0000ff" stroke-width="2.9" fill="none"/>
<path d="M436.5 88.8L440.2 95.5L432.8 95.5z" fill="#0000ff"/>
<text x="466.8" y="100.3" font-size="21.4">2 T</text>
<path d="M411 120.1H428.8M443.9 120.1H462.1" stroke="#007f00" stroke-width="2.9" fill="none"/>
<path d="M436.5 124.6L440.2 117.9L432.8 117.9z" fill="#007f00"/>
<text x="466.8" y="127.2" font-size="21.4">3 T</text>
<path d="M411 147.1H428.8M443.9 147.1H462.1" stroke="#7f0000" stroke-width="2.9" fill="none"/>
<path d="M436.5 143.1L440.2 147.1L436.5 151.0L432.8 147.1z" fill="#7f0000"/>
<text x="466.8" y="154.2" font-size="21.4">5 T</text>
<path d="M411 173.9H428.8M443.9 173.9H462.1" stroke="#ff00ff" stroke-width="2.9" fill="none"/>
<path d="M432.2 173.9L438.9 170.0L438.9 177.8z" fill="#ff00ff"/>
<text x="466.8" y="181.0" font-size="21.4">8 T</text>
</svg>
</body></html>
